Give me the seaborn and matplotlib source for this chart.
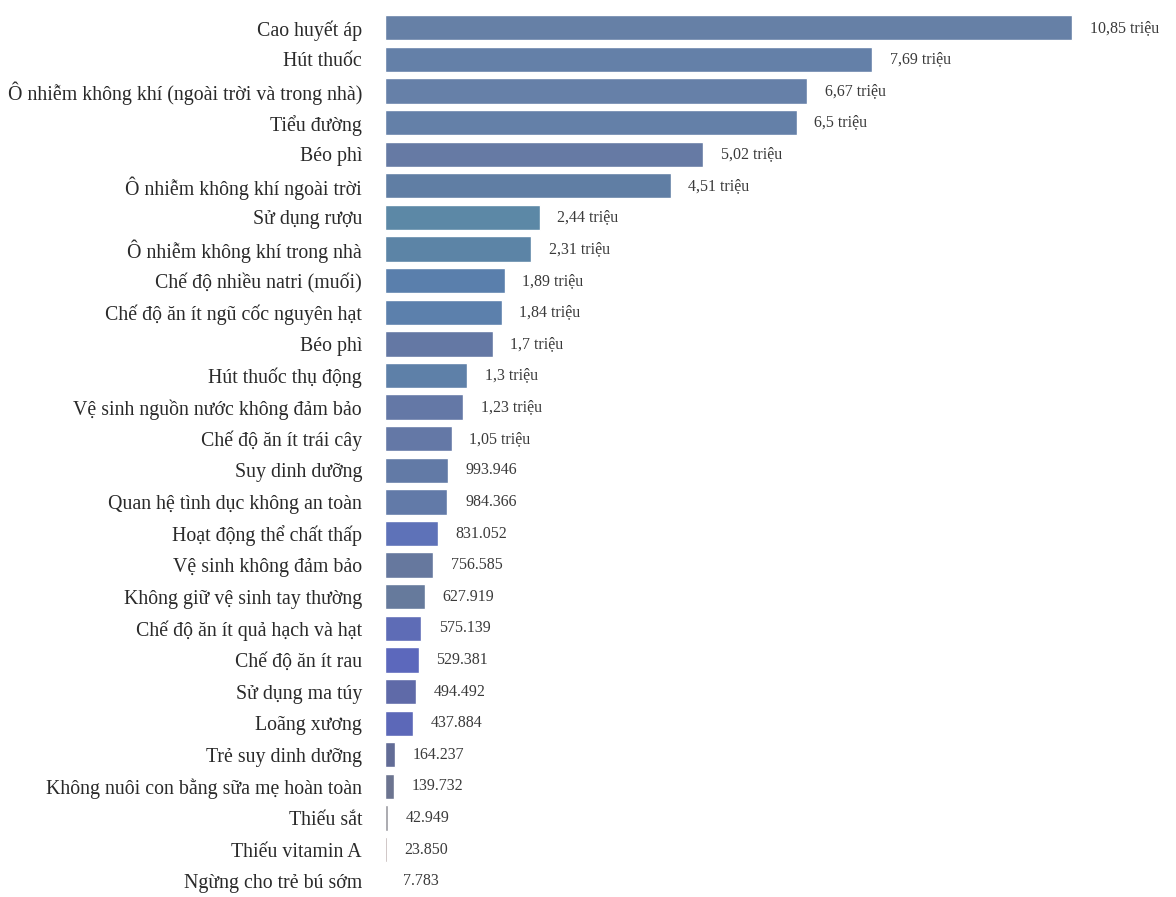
import matplotlib
matplotlib.use("Agg")
import matplotlib.pyplot as plt
import seaborn as sns
import pandas as pd

# Risk factors and number of attributed deaths
risk_factors = [
    "Cao huyết áp",
    "Hút thuốc",
    "Ô nhiễm không khí (ngoài trời và trong nhà)",
    "Tiểu đường",
    "Béo phì",
    "Ô nhiễm không khí ngoài trời",
    "Sử dụng rượu",
    "Ô nhiễm không khí trong nhà",
    "Chế độ nhiều natri (muối)",
    "Chế độ ăn ít ngũ cốc nguyên hạt",
    "Béo phì",
    "Hút thuốc thụ động",
    "Vệ sinh nguồn nước không đảm bảo",
    "Chế độ ăn ít trái cây",
    "Suy dinh dưỡng",
    "Quan hệ tình dục không an toàn",
    "Hoạt động thể chất thấp",
    "Vệ sinh không đảm bảo",
    "Không giữ vệ sinh tay thường",
    "Chế độ ăn ít quả hạch và hạt",
    "Chế độ ăn ít rau",
    "Sử dụng ma túy",
    "Loãng xương",
    "Trẻ suy dinh dưỡng",
    "Không nuôi con bằng sữa mẹ hoàn toàn",
    "Thiếu sắt",
    "Thiếu vitamin A",
    "Ngừng cho trẻ bú sớm",
]

deaths = [
    10_850_000, 7_690_000, 6_670_000, 6_500_000, 5_020_000, 4_510_000,
    2_440_000, 2_310_000, 1_890_000, 1_840_000, 1_700_000, 1_300_000,
    1_230_000, 1_050_000, 993_946, 984_366, 831_052, 756_585, 627_919,
    575_139, 529_381, 494_492, 437_884, 164_237, 139_732, 42_949,
    23_850, 7_783,
]

bar_colors = [
    "#6680a6", "#6480a8", "#6680a8", "#6480a8", "#667aa4", "#607ea4",
    "#5c88a6", "#5c84a6", "#5a7fac", "#5c80ac", "#6478a4", "#5e80a8",
    "#6478a6", "#6478a6", "#627aa6", "#627aa8", "#5e72b8", "#66789e",
    "#667a9c", "#5e6cb6", "#5c68bc", "#5f6aa8", "#5c68b8", "#626c96",
    "#6c7490", "#9a9aa0", "#b4a6a6", "#c8c8c8",
]


def fmt(v):
    if v >= 1_000_000:
        s = f"{v / 1_000_000:.2f}".rstrip("0").rstrip(".")
        return s.replace(".", ",") + " triệu"
    return f"{v:,}".replace(",", ".")


df = pd.DataFrame({
    "pos": [str(i) for i in range(len(risk_factors))],
    "deaths": deaths,
})

sns.set_theme(style="white")
plt.rcParams["font.family"] = ["Liberation Serif", "DejaVu Serif"]

fig = plt.figure(figsize=(11.76, 8.97), dpi=100)
ax = fig.add_axes([385 / 1176, 0.0, (1145 - 385) / 1176, 1 - 12 / 897])

sns.barplot(
    data=df, x="deaths", y="pos", hue="pos", palette=bar_colors,
    legend=False, width=0.8, ax=ax, saturation=1,
)

ax.set_xlim(0, 12_000_000)
ax.set_ylim(len(risk_factors) - 0.5, -0.5)
ax.set_yticks(range(len(risk_factors)))
ax.set_yticklabels(risk_factors, fontsize=14.3, color="#2a2a2a")
ax.tick_params(axis="y", length=0, pad=16.5)
ax.set_xticks([])
ax.set_xlabel("")
ax.set_ylabel("")
for side in ["top", "right", "bottom", "left"]:
    ax.spines[side].set_visible(False)

for i, v in enumerate(deaths):
    ax.text(v + 280_000, i, fmt(v), va="center", ha="left",
            fontsize=11.5, color="#3a3a3a")

fig.savefig("out.png", dpi=100, facecolor="white")
